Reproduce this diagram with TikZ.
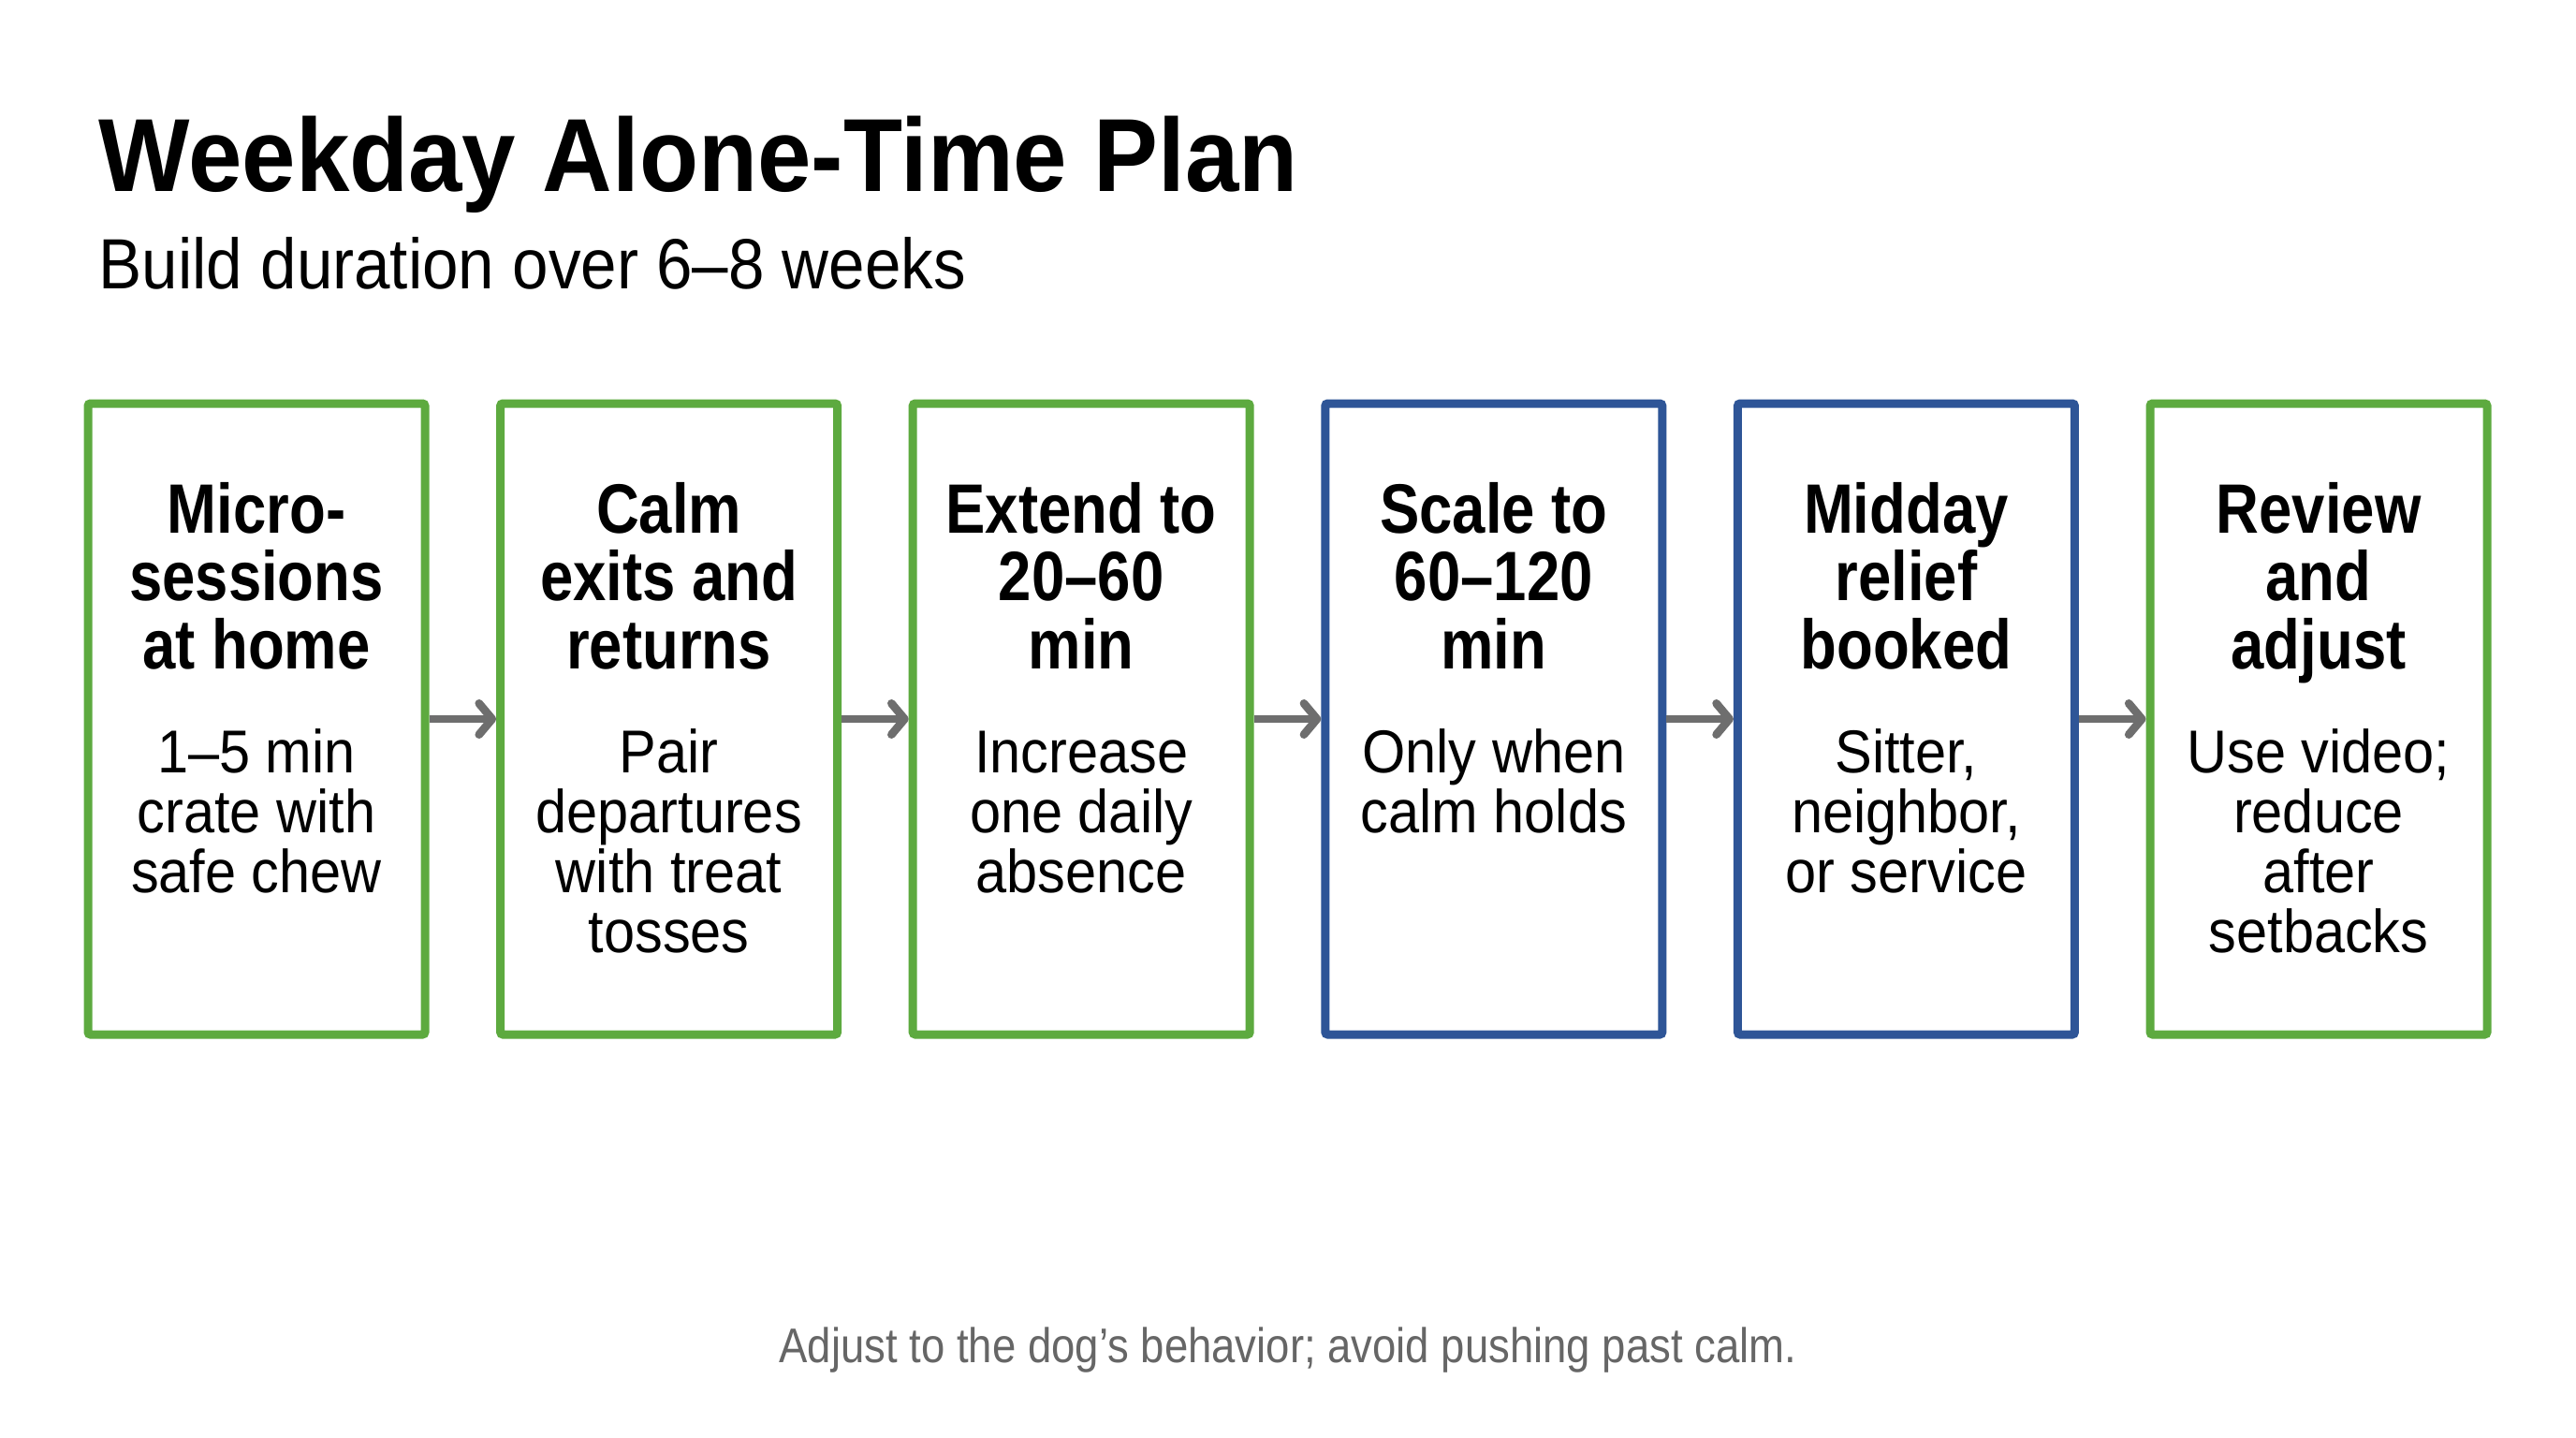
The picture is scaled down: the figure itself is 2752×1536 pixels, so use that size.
\documentclass[tikz,border=0pt]{standalone}
\usepackage{fontspec}
\setmainfont{Liberation Sans}
\newfontfamily\titlefam[FakeStretch=0.93]{Liberation Sans}
\newfontfamily\subfam[FakeStretch=0.91]{Liberation Sans}
\newfontfamily\headfam[FakeStretch=0.85]{Liberation Sans}
\newfontfamily\bodyfam[FakeStretch=0.92]{Liberation Sans}
\newfontfamily\footfam[FakeStretch=0.875]{Liberation Sans}
\usetikzlibrary{arrows.meta}
\definecolor{grn}{HTML}{5DAA3F}
\definecolor{blu}{HTML}{2E5597}
\definecolor{arr}{HTML}{6E6E6E}
\definecolor{foot}{HTML}{666666}
\begin{document}
\begin{tikzpicture}[x=0.3pt,y=-0.3pt,
  stepbox/.style={draw=#1, line width=2.7pt, minimum width=108pt, minimum height=202.2pt, inner sep=0pt, rounded corners=0.8pt},
  headtxt/.style={anchor=base, inner sep=0pt, font=\headfam\bfseries\fontsize{22.4}{21.6}\selectfont},
  bodytxt/.style={anchor=base, inner sep=0pt, font=\bodyfam\fontsize{19.4}{19.2}\selectfont},
  flow/.style={draw=arr, line width=2.6pt, -{Straight Barb[round,length=4.2pt,width=10pt]}}
]
\useasboundingbox[fill=white] (0,0) rectangle (2752,1536);

\node[anchor=base west, inner sep=0pt, font=\titlefam\bfseries\fontsize{33.3}{38}\selectfont] (title) at (105,205) {Weekday Alone-Time Plan};
\node[anchor=base west, inner sep=0pt, font=\subfam\fontsize{22.8}{26}\selectfont] (sub) at (105,309) {Build duration over 6–8 weeks};

\foreach \i/\cx/\col in {1/274/grn, 2/714.6/grn, 3/1155.2/grn, 4/1595.8/blu, 5/2036.4/blu, 6/2477/grn}{
  \node[stepbox=\col] (b\i) at (\cx,768) {};
}

\node[headtxt] (h1) at (274,570) {\parbox[t]{104pt}{\centering Micro-\\sessions\\at home}};
\node[bodytxt] (t1) at (274,825) {\parbox[t]{104pt}{\centering 1–5 min\\crate with\\safe chew}};

\node[headtxt] (h2) at (714.6,570) {\parbox[t]{104pt}{\centering Calm\\exits and\\returns}};
\node[bodytxt] (t2) at (714.6,825) {\parbox[t]{104pt}{\centering Pair\\departures\\with treat\\tosses}};

\node[headtxt] (h3) at (1155.2,570) {\parbox[t]{104pt}{\centering Extend to\\20–60\\min}};
\node[bodytxt] (t3) at (1155.2,825) {\parbox[t]{104pt}{\centering Increase\\one daily\\absence}};

\node[headtxt] (h4) at (1595.8,570) {\parbox[t]{104pt}{\centering Scale to\\60–120\\min}};
\node[bodytxt] (t4) at (1595.8,825) {\parbox[t]{104pt}{\centering Only when\\calm holds}};

\node[headtxt] (h5) at (2036.4,570) {\parbox[t]{104pt}{\centering Midday\\relief\\booked}};
\node[bodytxt] (t5) at (2036.4,825) {\parbox[t]{104pt}{\centering Sitter,\\neighbor,\\or service}};

\node[headtxt] (h6) at (2477,570) {\parbox[t]{104pt}{\centering Review\\and\\adjust}};
\node[bodytxt] (t6) at (2477,825) {\parbox[t]{104pt}{\centering Use video;\\reduce\\after\\setbacks}};

\foreach \a/\b in {1/2,2/3,3/4,4/5,5/6}{
  \draw[flow] (b\a.east) -- (b\b.west);
}

\node[anchor=base, inner sep=0pt, text=foot, font=\footfam\fontsize{15.6}{18}\selectfont] (foot) at (1376,1455) {Adjust to the dog’s behavior; avoid pushing past calm.};
\end{tikzpicture}
\end{document}
